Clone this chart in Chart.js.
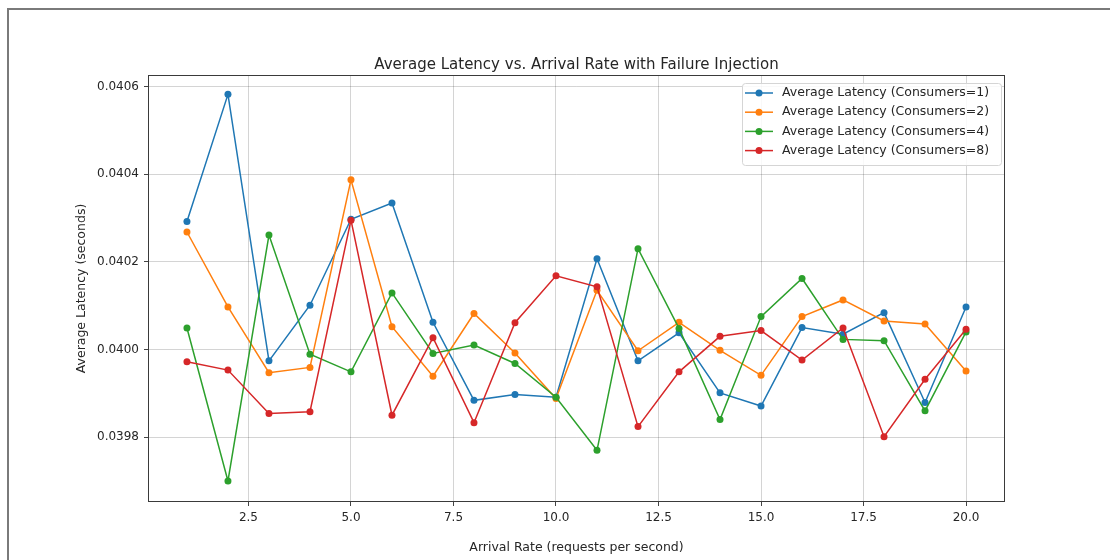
<!DOCTYPE html>
<html>
<head>
<meta charset="utf-8">
<script src="https://cdn.jsdelivr.net/npm/chart.js@4/dist/chart.umd.min.js"></script>
<style>
  html, body { margin: 0; padding: 0; background: #fff; }
  #wrap { position: relative; width: 1110px; height: 560px; }
  #myChart { position: absolute; left: 0; top: 0; }
  #frame { position: absolute; left: 7px; top: 8px; right: 0; bottom: 0;
           border-top: 2px solid #7a7a7a; border-left: 2px solid #7a7a7a; pointer-events: none; }
</style>
</head>
<body>
<div id="wrap">
  <canvas id="myChart" width="1110" height="560"></canvas>
  <div id="frame"></div>
</div>
<script>
// 데이터
let arrivalRate = [1, 2, 3, 4, 5, 6, 7, 8, 9, 10, 11, 12, 13, 14, 15, 16, 17, 18, 19, 20];
let latency1 = [0.040292, 0.040582, 0.039974, 0.040101, 0.040297, 0.040334, 0.040062, 0.039884, 0.039897, 0.039891,
                0.040207, 0.039974, 0.040038, 0.039901, 0.039871, 0.040050, 0.040035, 0.040084, 0.039879, 0.040097];
let latency2 = [0.040268, 0.040097, 0.039947, 0.039959, 0.040387, 0.040052, 0.039939, 0.040082, 0.039992, 0.039888,
                0.040135, 0.039997, 0.040062, 0.039998, 0.039941, 0.040075, 0.040113, 0.040065, 0.040058, 0.039951];
let latency4 = [0.040049, 0.039700, 0.040261, 0.039989, 0.039949, 0.040129, 0.039991, 0.040010, 0.039968, 0.039891,
                0.039770, 0.040230, 0.040048, 0.039840, 0.040075, 0.040162, 0.040023, 0.040020, 0.039860, 0.040040];
let latency8 = [0.039972, 0.039953, 0.039854, 0.039858, 0.040295, 0.039850, 0.040027, 0.039833, 0.040061, 0.040168,
                0.040143, 0.039824, 0.039949, 0.040030, 0.040043, 0.039976, 0.040049, 0.039801, 0.039932, 0.040046];
let seriesLabels = ["Average Latency (Consumers=1)", "Average Latency (Consumers=2)",
                    "Average Latency (Consumers=4)", "Average Latency (Consumers=8)"];
let seriesColors = ["#1f77b4", "#ff7f0e", "#2ca02c", "#d62728"];
let xTicks = [2.5, 5.0, 7.5, 10.0, 12.5, 15.0, 17.5, 20.0];
let yTicks = [0.0398, 0.0400, 0.0402, 0.0404, 0.0406];
let chartTitle = "Average Latency vs. Arrival Rate with Failure Injection";

let FONT = "'DejaVu Sans', sans-serif";
let TEXT = "#262626";

function toPoints(ys) {
    return arrivalRate.map((x, i) => ({ x: x, y: ys[i] }));
}

let allSeries = [latency1, latency2, latency4, latency8];
let datasets = allSeries.map((ys, i) => ({
    label: seriesLabels[i],
    data: toPoints(ys),
    borderColor: seriesColors[i],
    backgroundColor: seriesColors[i],
    borderWidth: 1.5,
    pointRadius: 3.5,
    pointBorderWidth: 0,
    tension: 0,
    order: allSeries.length - i, // 뒤 시리즈가 위에 그려지도록
}));

// 축 테두리 + 범례 (플롯 안쪽 오른쪽 위)
let framePlugin = {
    id: "framePlugin",
    afterDraw(chart) {
        let ctx = chart.ctx;
        let a = chart.chartArea;
        ctx.save();
        ctx.strokeStyle = "#3a3a3a";
        ctx.lineWidth = 1;
        ctx.strokeRect(a.left + 0.5, a.top + 0.5, a.right - a.left - 1, a.bottom - a.top - 1);

        // 범례
        let bx = 742, by = 83, bw = 259, bh = 82;
        ctx.fillStyle = "rgba(255,255,255,0.85)";
        ctx.strokeStyle = "#d5d5d5";
        ctx.beginPath();
        ctx.roundRect(bx + 0.5, by + 0.5, bw, bh, 3);
        ctx.fill();
        ctx.stroke();
        ctx.font = "12.5px " + FONT;
        ctx.textBaseline = "middle";
        chart.data.datasets.forEach((ds, i) => {
            let yy = by + 10 + i * 19.2;
            ctx.strokeStyle = ds.borderColor;
            ctx.lineWidth = 1.5;
            ctx.beginPath();
            ctx.moveTo(745, yy);
            ctx.lineTo(773, yy);
            ctx.stroke();
            ctx.fillStyle = ds.borderColor;
            ctx.beginPath();
            ctx.arc(759, yy, 3.5, 0, Math.PI * 2);
            ctx.fill();
            ctx.fillStyle = TEXT;
            ctx.fillText(ds.label, 782, yy);
        });
        ctx.restore();
    }
};

let Ctxt = document.getElementById("myChart").getContext("2d");
let ChartInst = new Chart(Ctxt, {
    type: "line",
    data: { datasets: datasets },
    options: {
        responsive: false,
        animation: false,
        layout: { padding: { left: 0, right: 105, top: 0, bottom: 0 } },
        plugins: {
            legend: { display: false },
            tooltip: { enabled: false },
            title: { display: false }
        },
        scales: {
            x: {
                type: "linear",
                min: 0.05,
                max: 20.95,
                afterBuildTicks: (s) => { s.ticks = xTicks.map(v => ({ value: v })); },
                afterFit: (s) => { s.height = 58; },
                ticks: {
                    color: TEXT,
                    font: { family: FONT, size: 12 },
                    padding: 5,
                    maxRotation: 0,
                    callback: (v) => Number(v).toFixed(1)
                },
                grid: { color: "rgba(0,0,0,0.17)", lineWidth: 1, tickLength: 4, tickColor: "#444" },
                border: { display: false },
                title: {
                    display: true,
                    text: "Arrival Rate (requests per second)",
                    color: TEXT,
                    font: { family: FONT, size: 12.5, lineHeight: 1.2 },
                    padding: { top: 0, bottom: 4.5 }
                }
            },
            // 제목용 위쪽 축 (플롯 영역 가운데 정렬)
            xTop: {
                type: "linear",
                position: "top",
                min: 0.05,
                max: 20.95,
                afterBuildTicks: (s) => { s.ticks = []; },
                afterFit: (s) => { s.height = 75; },
                ticks: { display: false },
                grid: { display: false },
                border: { display: false },
                title: {
                    display: true,
                    text: chartTitle,
                    color: TEXT,
                    font: { family: FONT, size: 15, lineHeight: 1.2 },
                    padding: { top: 56, bottom: 0 }
                }
            },
            y: {
                type: "linear",
                min: 0.039652,
                max: 0.0406262,
                afterBuildTicks: (s) => { s.ticks = yTicks.map(v => ({ value: v })); },
                afterFit: (s) => { s.width = 148; },
                ticks: {
                    color: TEXT,
                    font: { family: FONT, size: 12 },
                    padding: 5,
                    callback: (v) => Number(v).toFixed(4)
                },
                grid: { color: "rgba(0,0,0,0.17)", lineWidth: 1, tickLength: 4, tickColor: "#444" },
                border: { display: false },
                title: {
                    display: true,
                    text: "Average Latency (seconds)",
                    color: TEXT,
                    font: { family: FONT, size: 12.5, lineHeight: 1.2 },
                    padding: { top: 74.5, bottom: 0 }
                }
            }
        }
    },
    plugins: [framePlugin]
});
</script>
</body>
</html>
